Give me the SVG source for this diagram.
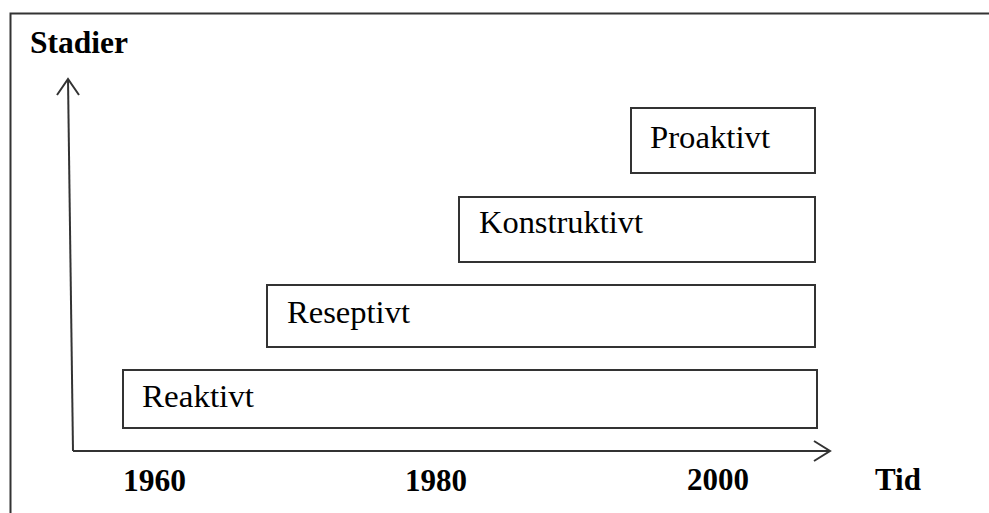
<svg xmlns="http://www.w3.org/2000/svg" width="989" height="513" viewBox="0 0 989 513">
<style>
.box{fill:#fff;stroke:#333;stroke-width:2}
.lbl{font-family:"Liberation Serif","Times New Roman",serif;font-size:32px;fill:#000}
.ax{font-family:"Liberation Serif","Times New Roman",serif;font-size:31px;font-weight:bold;fill:#000}
.line{stroke:#333;stroke-width:2;fill:none}
</style>
<rect width="989" height="513" fill="#fff"/>
<path class="line" d="M10.5,513 V13.5 H989"/>
<text class="ax" x="30" y="53" textLength="98" lengthAdjust="spacingAndGlyphs">Stadier</text>
<g id="connectors">
<path class="line" d="M73,451 L68,79"/>
<path class="line" d="M57,95 L68,79 L79,95"/>
<path class="line" d="M73,451 H830"/>
<path class="line" d="M814,441 L830,451 L814,461"/>
</g>
<g id="proaktivt">
<rect class="box" x="631" y="108" width="184" height="65"/>
<text class="lbl" x="650" y="148" textLength="120" lengthAdjust="spacingAndGlyphs">Proaktivt</text>
</g>
<g id="konstruktivt">
<rect class="box" x="459" y="197" width="356" height="65"/>
<text class="lbl" x="479" y="233" textLength="164" lengthAdjust="spacingAndGlyphs">Konstruktivt</text>
</g>
<g id="reseptivt">
<rect class="box" x="267" y="285" width="548" height="62"/>
<text class="lbl" x="287" y="323" textLength="123" lengthAdjust="spacingAndGlyphs">Reseptivt</text>
</g>
<g id="reaktivt">
<rect class="box" x="123" y="370" width="694" height="58"/>
<text class="lbl" x="142" y="407" textLength="112" lengthAdjust="spacingAndGlyphs">Reaktivt</text>
</g>
<text class="ax" x="123" y="491" textLength="63" lengthAdjust="spacingAndGlyphs">1960</text>
<text class="ax" x="405" y="491" textLength="62" lengthAdjust="spacingAndGlyphs">1980</text>
<text class="ax" x="687" y="490" textLength="62" lengthAdjust="spacingAndGlyphs">2000</text>
<text class="ax" x="875" y="490" textLength="46" lengthAdjust="spacingAndGlyphs">Tid</text>
</svg>
